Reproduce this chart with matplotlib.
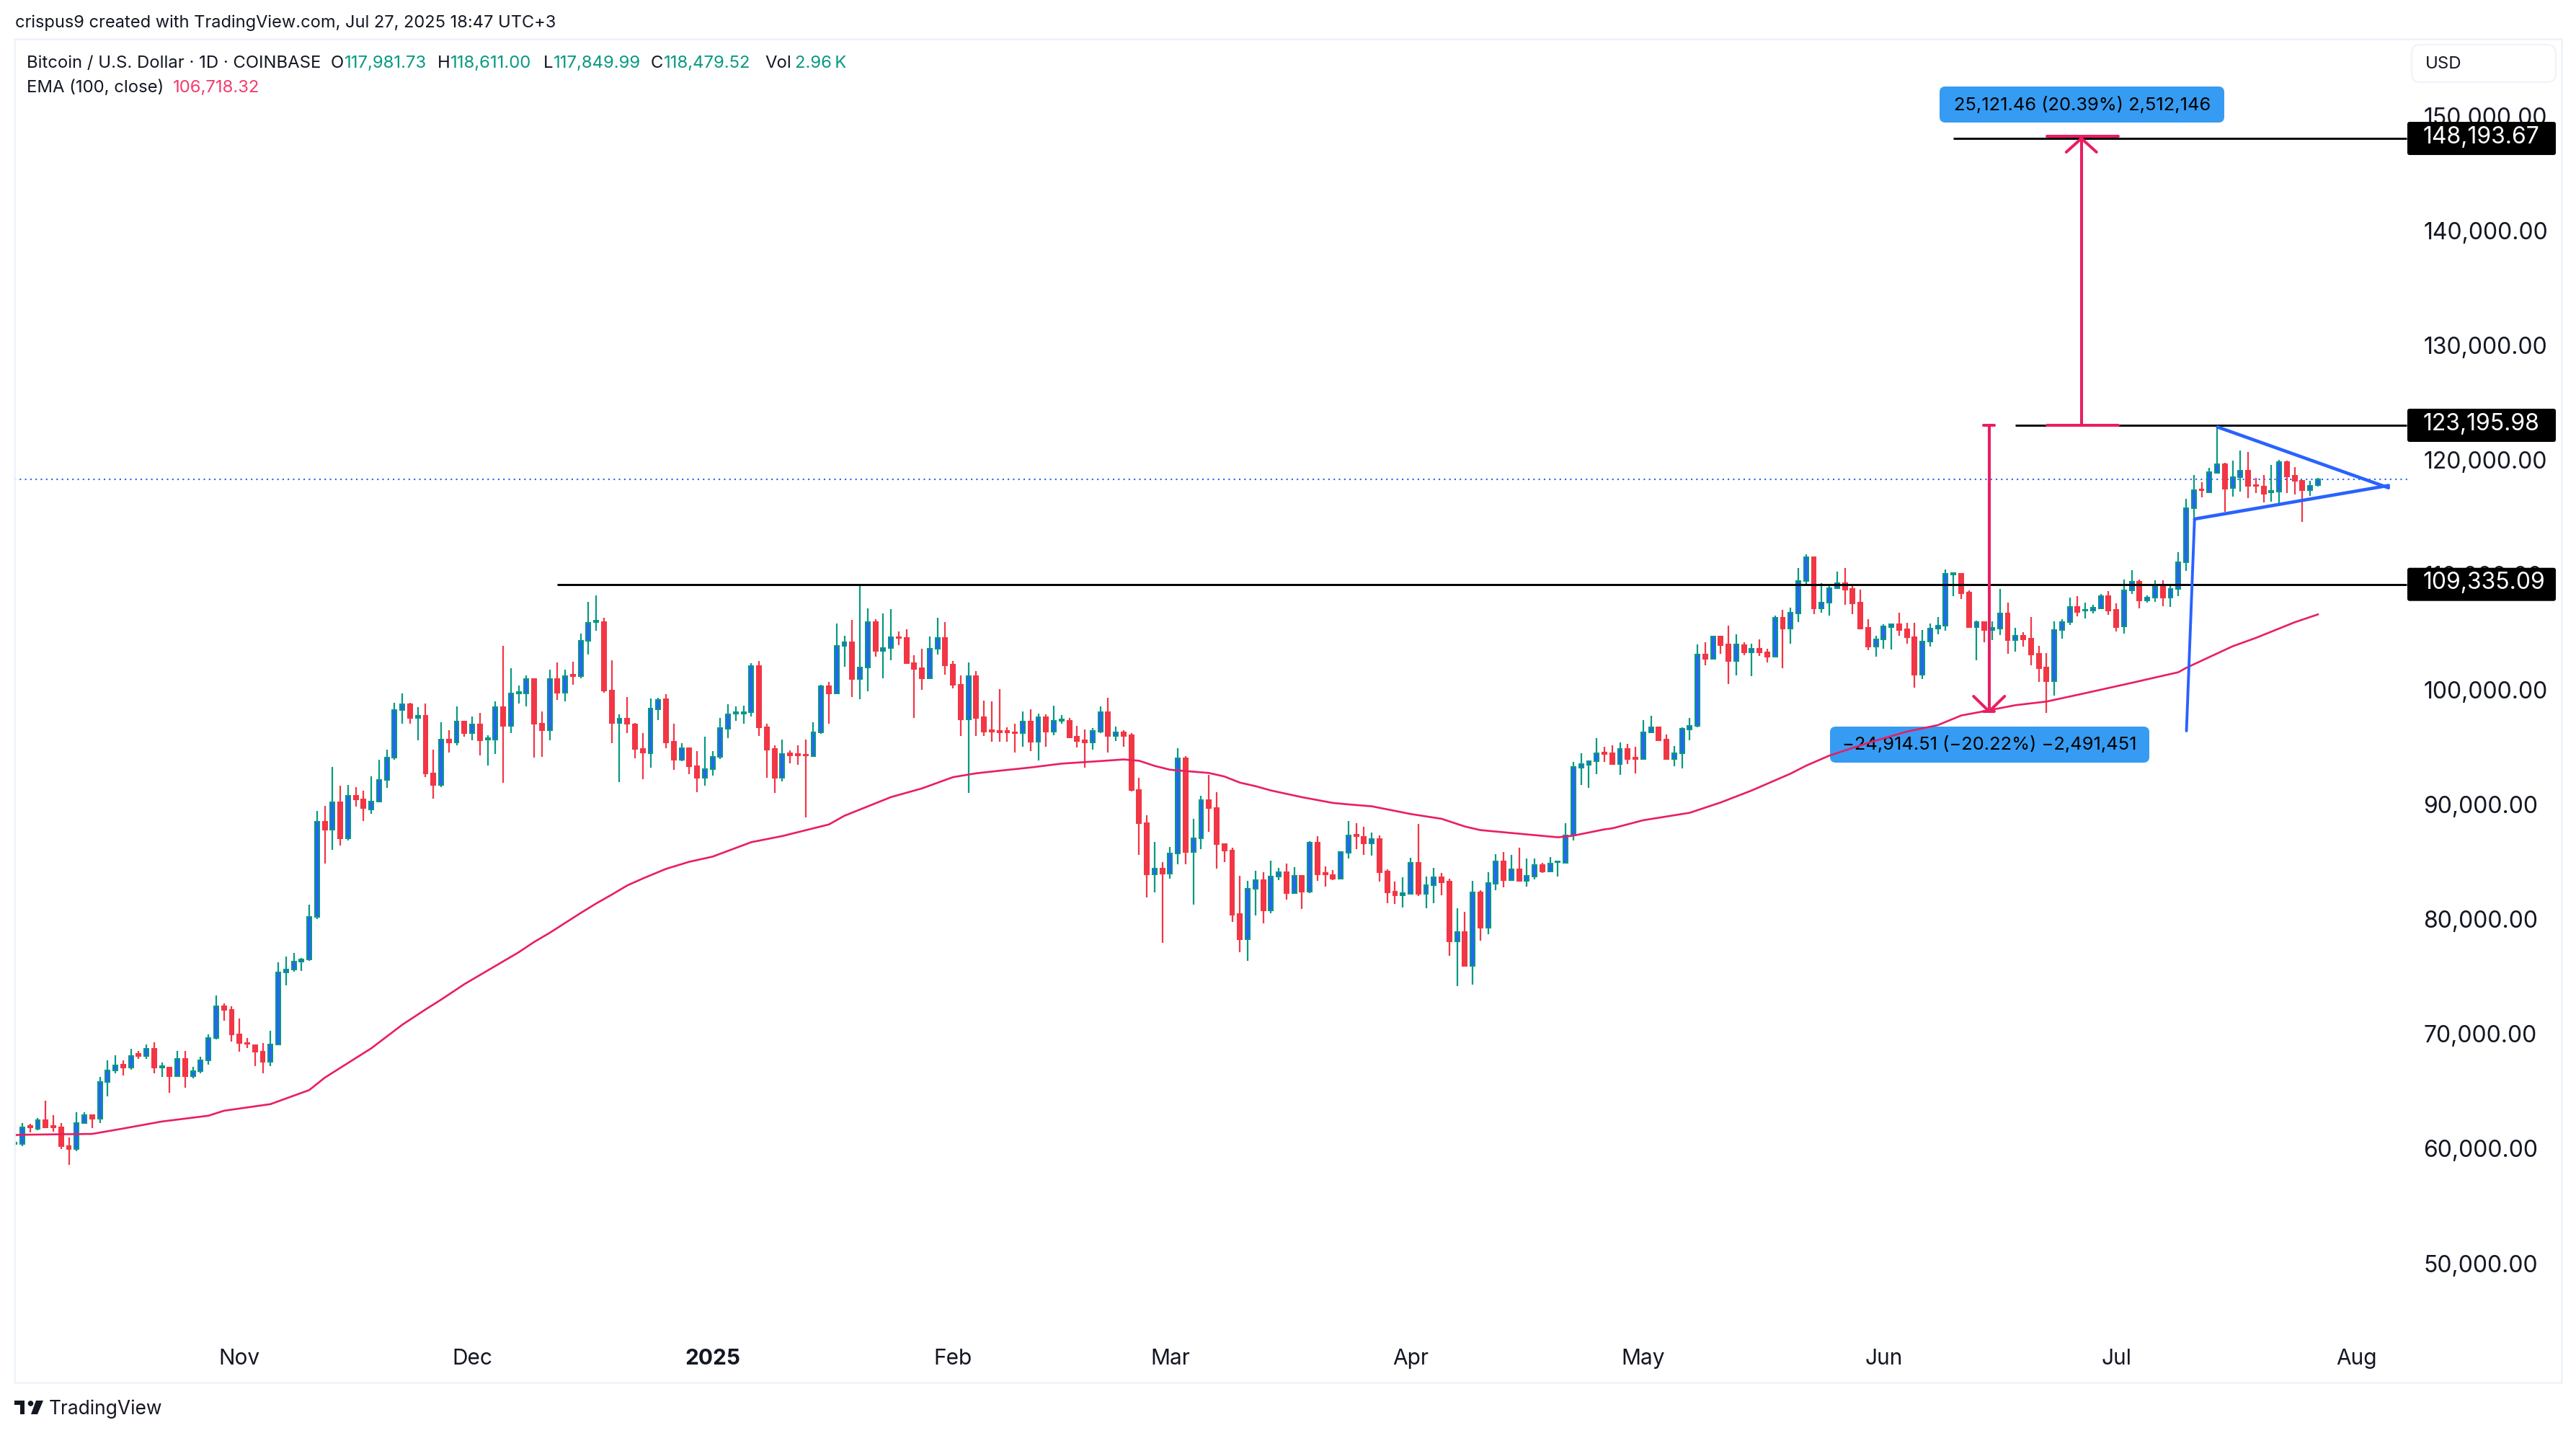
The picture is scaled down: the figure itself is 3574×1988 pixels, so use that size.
import numpy as np
import matplotlib
matplotlib.use("Agg")
import matplotlib.pyplot as plt
from matplotlib.patches import FancyBboxPatch, Polygon, Rectangle, Circle
from matplotlib.transforms import IdentityTransform, ScaledTranslation

plt.rcParams['font.family'] = ['Inter', 'DejaVu Sans']

W, H = 3574, 1988

# daily candles, Oct 3 2024 .. Jul 27 2025
opens = [60586,60586,62172,61884,62677,62172,62028,60406,60153,62389,63074,62749,65994,66967,67472,67255,68409,68229,68878,67255,
67255,66462,68012,66462,66895,67832,69779,72591,72230,70103,69382,69202,68589,67724,69274,75547,75799,76448,76664,80341,
88669,87948,90363,87227,90940,90580,89751,90435,92310,94257,98366,98907,97682,97898,92887,91841,95843,95591,97393,96348,
97141,95843,95843,98655,96997,99845,99808,101106,97213,96600,101106,99917,101467,101359,104387,106045,106081,100061,97285,97645,
97141,95014,94641,98482,99323,95594,94052,95061,93463,92510,93267,94276,96772,98090,98090,98230,102211,96856,95005,92453,
94613,94528,94500,94388,96463,100445,99856,104006,104314,101118,102071,106081,103557,103810,104763,104651,102492,102015,101174,103698,
104651,102324,100557,97585,101370,97753,96603,96547,96547,96463,96407,97360,95650,97781,96519,97473,97473,96043,95762,95538,
96491,98230,96099,96463,96183,91388,88500,84041,84546,84154,85920,94164,86032,87182,90519,89818,86677,86116,80621,78433,
82780,83550,80955,83906,84241,82441,83927,82588,86816,84178,84011,83697,85979,87506,87339,86795,87130,84304,82567,82274,
82399,85057,82399,83111,83802,83425,78255,79030,76120,82483,79448,83278,85183,83592,84492,83530,83906,84869,84346,85120,
85099,87443,93388,93639,93911,94664,94602,93702,94978,94225,94099,96422,96864,95817,94143,94645,96717,96990,103206,102871,
104775,104085,102682,104064,103436,103708,103436,103059,106408,105508,106827,109610,111682,107266,107727,108982,109422,108920,107748,105529,
103938,104566,105634,105843,105403,104713,101489,104336,105508,105717,110217,110259,108627,105613,106031,105382,105508,106785,104503,104838,
104587,103269,102076,100924,105341,106073,107350,107036,107036,107266,108292,107120,105655,108794,109548,107957,108166,109171,108208,108920,
111265,115954,117607,117377,119072,119805,117712,118654,119219,118005,117837,117377,117398,119972,118779,118340,117565,117981.73]
highs = [61344,62389,62316,62857,64335,63074,62389,61127,63326,63362,63182,66426,67832,68301,67832,68878,68661,69274,69418,67688,
67291,68697,68697,67291,68157,70139,73492,72843,72555,71509,69779,69238,69346,70428,76376,76917,77205,76809,81423,89606,
90039,93428,91805,91841,91697,91337,92598,94040,94942,99015,99808,99015,98655,98943,94942,97321,96636,98691,97393,97826,
98150,96203,99160,103990,102044,100529,101395,101178,98258,101899,102548,101899,102584,105036,107812,108388,106442,102692,98042,99520,
97285,96384,99407,99463,99800,97220,95482,95061,94837,96043,94837,97697,98903,98678,98762,102464,102660,97164,95314,95818,
94893,95314,95818,97304,100613,100809,105913,104847,106221,109334,107231,106333,106810,107174,105212,105408,103165,103726,104791,106417,
106053,102688,101398,102520,101791,99211,99127,100221,96884,97220,98286,98454,98061,98005,98791,97921,97697,96996,96688,96828,
98678,99463,96940,96631,96407,92482,89229,86902,85107,86453,95061,94360,88892,90883,92734,91220,86733,86397,83929,83481,
84378,84262,85267,84639,84995,84702,83927,86941,87402,84764,84430,86062,88720,88532,88218,87695,87464,84513,83446,83823,
85518,88469,83885,84639,84199,83697,81123,80809,83509,82692,84262,85832,86020,85769,86397,85455,85455,85057,85581,85246,
88532,93848,94622,93995,95941,95188,95313,95564,95439,95188,97511,97888,96927,96236,95252,96885,97701,104085,104294,104880,
104880,105717,104964,104294,104189,104545,103729,106617,107120,107287,110761,111934,111724,109443,109275,110427,110761,109296,108878,106282,
104880,105843,105927,106868,105989,105989,105362,105927,106492,110636,110343,110280,108794,106157,106031,106094,108941,107748,105529,105194,
106492,103980,103352,106094,106303,108166,108313,107748,107538,108501,108752,107706,109757,110594,109757,108396,109694,109694,109171,112143,
116770,118863,118214,119491,123154,119909,120119,120998,120872,118591,118863,119742,120202,120119,119554,118382,118340,118611]
lows = [59793,60371,61596,61740,62028,61668,60153,58784,59973,62316,61956,62389,64696,66715,66534,67075,67976,68012,66751,66426,
65056,66390,65453,66282,66751,67472,69671,71329,69526,68625,68914,67363,66715,67363,69202,74393,75583,75655,76520,80197,
84992,86182,86578,87011,89967,88705,89318,90363,91589,94077,97177,97177,95771,92526,90652,91697,94653,95338,96095,95735,
94401,93536,94581,92022,96384,98979,98727,94221,94293,95735,99268,99160,100566,101178,103233,105324,99917,95519,92094,96348,
94149,92346,93379,97529,95033,93183,93940,92790,91248,91781,92678,94136,95930,97445,97220,97809,96099,92453,91136,92201,
93743,93631,89005,94276,96323,97220,99856,102183,99492,99351,100052,103053,101174,102744,104034,102436,97669,100136,101174,103249,
101454,100249,96155,91136,96099,96155,95622,95594,95622,94697,95201,94781,93996,95201,96211,97220,95987,95145,93351,94921,
96407,94697,95678,95201,91276,85780,82079,82527,78097,83705,84967,84967,81406,86285,87743,84546,85163,79948,77312,76499,
80508,79825,80704,83571,81897,82378,81081,82462,83530,83006,83592,83697,85476,86292,85769,85727,83467,81583,81520,81185,
82337,82211,81144,81583,82274,76999,74362,76099,74488,78318,78883,82713,82964,83592,83530,83027,83655,84220,84304,83906,
85099,87046,91881,91629,92822,93890,93639,92760,93681,92885,94057,96360,95671,94101,93473,93327,95776,96864,102306,102787,
103310,100673,101406,103143,101364,103101,102557,103059,102055,104189,106073,109213,106764,106889,106638,108961,107538,106764,105508,103624,
103059,103750,103687,104880,104148,100359,101113,103938,104985,105320,108334,108082,105613,102745,104315,104482,104922,103310,103499,103938,
102306,100841,98162,99669,104608,105780,106555,106387,106827,107224,106701,105257,105069,108522,107245,107748,107831,107434,107392,108334,
110533,115137,116916,117293,118968,115661,116979,117440,116854,117314,116498,116561,116184,117314,117188,114761,117063,117849.99]
closes = [60695,62028,62028,62677,62028,62028,60371,60153,62389,63074,62749,65994,66967,67436,67255,68265,68265,68878,67219,67363,
66462,68012,66462,66895,67832,69779,72591,72230,70103,69346,69310,68589,67724,69274,75547,75799,76448,76664,80341,88669,
87948,90363,87227,90940,90580,89823,90435,92310,94257,98366,98907,97682,97898,92887,91841,95843,95591,97393,96348,97141,
95771,95951,98655,96997,99808,99953,101106,97213,96600,101106,99917,101359,101359,104387,106009,106189,100061,97285,97645,97177,
95014,94653,98510,99267,95566,94080,95033,93463,92482,93267,94276,96800,98033,98202,98230,102211,96856,94949,92453,94585,
94444,94444,94416,96463,100445,99856,104006,104314,101118,102071,106081,103557,103810,104763,104651,102492,101987,101174,103698,104651,
102296,100557,97585,101370,97725,96519,96519,96463,96463,96407,97360,95650,97781,96519,97417,97557,95987,95706,95538,96547,
98230,96099,96463,96155,91388,88500,84041,84546,84154,85920,94164,86032,87182,90519,89818,86677,86116,80565,78433,82780,
83537,80955,83864,84262,82462,83927,82588,86816,84095,84095,83697,85999,87443,87423,86795,87130,84283,82525,82274,82420,
85057,82399,83111,83802,83404,78255,79030,76120,82483,79448,83299,85183,83592,84492,83530,83927,84869,84325,84995,85183,
87443,93409,93660,93911,94602,94581,93681,94978,94141,94141,96422,96862,95734,94143,94645,96738,96990,103206,102871,104775,
104064,102682,104085,103415,103708,103436,103059,106408,105508,106848,109610,111682,107266,107727,108982,109422,108899,107706,105508,103938,
104566,105655,105843,105382,104713,101489,104336,105508,105717,110238,110301,108585,105613,106031,105382,105529,106785,104503,104838,104566,
103248,102055,100924,105341,106073,107350,106952,107120,107287,108292,107078,105613,108794,109548,107957,108166,109171,108208,108920,111243,
115954,117523,117523,119093,119784,117691,118654,119219,117942,117921,117251,117461,119972,118758,118340,117565,117900,118479.52]

# EMA(100) read at spots along the line
ema_day = [0,1,10,14,19,25,27,33,38,40,46,50,53,55,58,65,67,69,73,75,77,79,81,84,87,90,95,99,102,105,107,110,113,117,121,124,127,131,135,140,143,145,147,149,152,154,156,158,160,162,166,170,172,175,178,180,184,187,189,193,196,199,201,205,206,210,216,220,224,229,231,234,239,244,248,251,254,258,262,267,273,279,280,283,286,289,294,297]
ema_value = [61350,61378,61451,61920,62532,63037,63470,64047,65273,66354,68913,70968,72300,73150,74500,77277,78179,78972,80702,81531,82300,83100,83705,84546,85163,85612,86873,87406,87911,88415,89173,89986,90799,91556,92537,92874,93098,93379,93716,93940,94080,93968,93519,93183,93015,92902,92594,92061,91755,91378,90792,90290,90164,89997,89599,89327,88909,88238,87925,87673,87486,87297,87443,87988,88074,88783,89434,90334,91380,92845,93536,94415,95524,96508,97073,97910,98287,98810,99124,99857,100757,101680,102056,103000,103940,104672,106033,106718]

price_ticks = [50000,60000,70000,80000,90000,100000,110000,120000,130000,140000,150000]
month_days = [29,59,90,121,149,180,210,241,271,302]
month_names = ['Nov','Dec','2025','Feb','Mar','Apr','May','Jun','Jul','Aug']

last_price = 118479.52
support = 109335.09
resistance = 123195.98
target = 148193.67
drop_low = 98264

up_body, wick_up, down = '#2962ff', '#089981', '#f23645'
pink = '#e91e63'
ink = '#131722'
frame = '#f0f3fa'

fig = plt.figure(figsize=(W/100, H/100), dpi=100, facecolor='white')
ax = fig.add_axes([20/W, 1-1918/H, (3340-20)/W, (1918-54)/H])
ax.set_xlim(-0.02, 308.53)
ax.set_ylim(39786, 156864)
for s in ax.spines.values():
    s.set_visible(False)

opens, highs, lows, closes = map(np.array, (opens, highs, lows, closes))
days = np.arange(len(opens))
up = closes >= opens

ax.vlines(days[up], lows[up], highs[up], color=wick_up, lw=1.6, zorder=3)
ax.vlines(days[~up], lows[~up], highs[~up], color=down, lw=1.6, zorder=3)
ax.bar(days[up], (closes-opens)[up], bottom=opens[up], width=0.55, color=up_body, edgecolor=wick_up, lw=1.45, zorder=3.1)
ax.bar(days[~up], (opens-closes)[~up], bottom=closes[~up], width=0.55, color=down, edgecolor=down, lw=1.45, zorder=3.1)

ax.plot(ema_day, ema_value, color=pink, lw=1.9, zorder=4)
ax.axhline(last_price, color=up_body, lw=1.5, ls=(0, (1, 2.5)), zorder=2)

# ticks
ax.yaxis.tick_right()
ax.set_yticks(price_ticks)
ax.set_yticklabels([f"{v:,.2f}" for v in price_ticks], fontsize=23, color=ink)
ax.tick_params(axis='y', length=0, pad=16)
ax.set_xticks(month_days)
ax.set_xticklabels(month_names, fontsize=21.5, color=ink)
ax.tick_params(axis='x', length=0, pad=-33.5)
ax.get_xticklabels()[2].set_fontweight('bold')
for lbl in ax.get_yticklabels():
    lbl.set_transform(lbl.get_transform() + ScaledTranslation(0, 2/72, fig.dpi_scale_trans))

# drawings
black_kw = dict(color='black', lw=2.1, zorder=5, solid_capstyle='butt')
ax.plot([69.96, 308.4], [support, support], **black_kw)
ax.plot([258.0, 308.4], [resistance, resistance], **black_kw)
ax.plot([250.0, 308.4], [target, target], **black_kw)

red_kw = dict(color=pink, lw=2.9, zorder=6, solid_capstyle='round')
ax.plot([266.5, 266.5], [resistance, target], **red_kw)
ax.plot([262.1, 271.3], [resistance, resistance], **red_kw)
ax.plot([262.1, 271.3], [target+190, target+190], **red_kw)
ax.plot([264.55, 266.5, 268.45], [target-1190, target, target-1190], **red_kw)
ax.plot([254.6, 254.6], [resistance, drop_low], **red_kw)
ax.plot([253.9, 255.3], [resistance, resistance], **red_kw)
ax.plot([253.9, 255.3], [drop_low, drop_low], **red_kw)
ax.plot([252.6, 254.6, 256.6], [drop_low+1320, drop_low, drop_low+1320], **red_kw)

blue_kw = dict(color=up_body, zorder=6, solid_capstyle='round')
ax.plot([280.05, 281.09], [96568, 115031], lw=2.8, **blue_kw)
ax.plot([281.09, 306.1], [115031, 117950], lw=3.3, **blue_kw)
ax.plot([284.05, 306.1], [123050, 117750], lw=3.3, **blue_kw)

idt = IdentityTransform()

def box(x0, y0, x1, y1, fc, ec='none', r=6, z=3, lw=0):
    p = FancyBboxPatch((x0+r, H-y1+r), x1-x0-2*r, y1-y0-2*r, boxstyle=f"round,pad={r},rounding_size={r}",
                       fc=fc, ec=ec, lw=lw, transform=idt, clip_on=False, zorder=z)
    ax.add_patch(p)

def label(x, y, s, size=17.0, color=ink, ha='left', z=7, **kw):
    ax.text(x, H-y, s, fontsize=size, color=color, ha=ha, va='center', transform=idt, clip_on=False, zorder=z, **kw)

# measure labels
box(2691, 120, 3086, 170, '#369bf2', r=8)
label(2889, 146, "25,121.46 (20.39%) 2,512,146", size=18.3, color='black', ha='center', z=3.5)
box(2539, 1008, 2982, 1058, '#369bf2', r=8)
label(2760, 1033, "\u221224,914.51 (\u221220.22%) \u22122,491,451", size=18.3, color='black', ha='center', z=3.5)

# price tags on the axis
for level, tag in [(target, "148,193.67"), (resistance, "123,195.98"), (support, "109,335.09")]:
    yp = H - ax.transData.transform((0, level))[1]
    box(3340, yp-23, 3546, yp+23, 'black', r=3, z=6)
    label(3362, yp-2, tag, size=23, color='white')

# header and legend
label(21, 32, "crispus9 created with TradingView.com, Jul 27, 2025 18:47 UTC+3")
label(37, 88, "Bitcoin / U.S. Dollar \u00b7 1D \u00b7 COINBASE", size=17.2)
green = '#089981'
for x, s in [(459, "O"), (607, "H"), (754, "L"), (903, "C"), (1061, "Vol")]:
    label(x, 88, s, size=17.2)
for x, s in [(478, "117,981.73"), (625, "118,611.00"), (768, "117,849.99"), (921, "118,479.52"), (1103, "2.96\u2009K")]:
    label(x, 88, s, color=green, size=17.2)
label(37, 122, "EMA (100, close)", size=17.2)
label(240, 122, "106,718.32", color='#f23d6d', size=17.2)

# USD button
box(3346, 62, 3546, 114, 'white', ec=frame, r=12, z=2, lw=1.6)
label(3365, 89, "USD", size=17.2)

# frame
fig.add_artist(Rectangle((20, H-1918), 3534, 1864, fc='none', ec=frame, lw=2, transform=idt, zorder=1))

# footer logo
for pts in ([(20,1943),(34,1943),(34,1962),(28,1962),(28,1949),(20,1949)],
            [(50,1943),(60,1943),(52,1962),(43,1962)]):
    fig.add_artist(Polygon([(a, H-b) for a, b in pts], fc=ink, ec='none', transform=idt))
fig.add_artist(Circle((42.5, H-1947), 3.8, fc=ink, ec='none', transform=idt))
label(68, 1955, "TradingView", size=19)

fig.savefig("out.png", dpi=100, facecolor='white')
